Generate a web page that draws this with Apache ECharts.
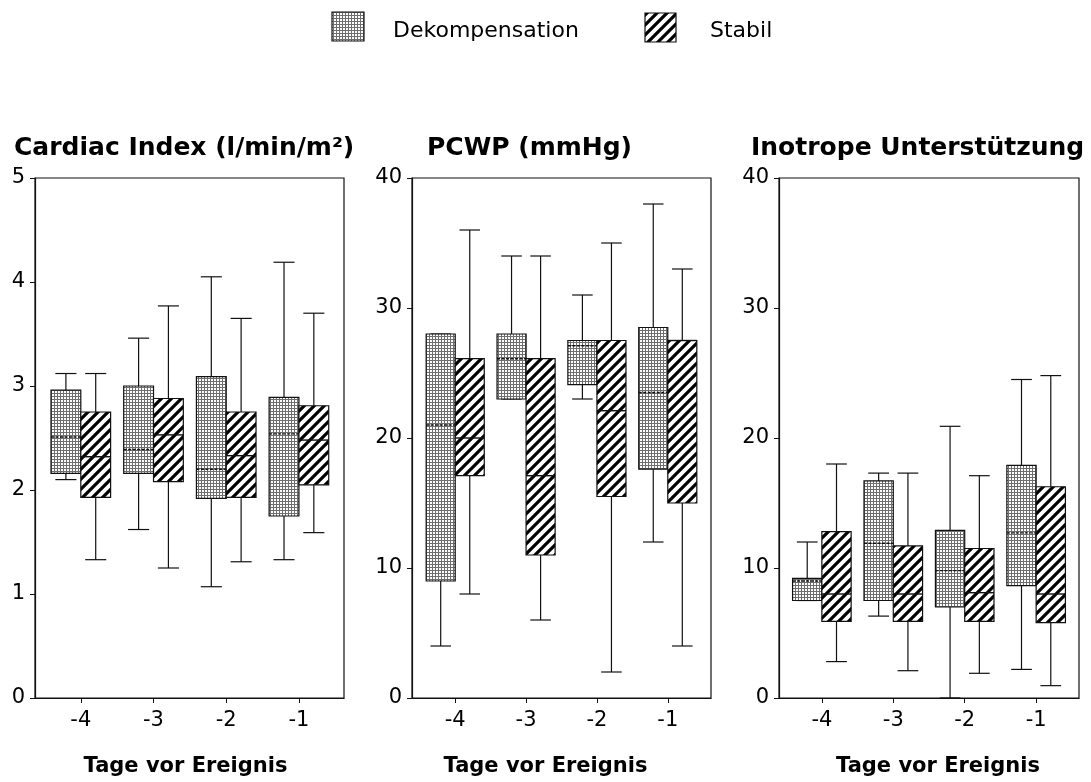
<!DOCTYPE html>
<html>
<head>
<meta charset="utf-8">
<script src="https://cdn.jsdelivr.net/npm/echarts@6/dist/echarts.min.js"></script>
<style>html,body{margin:0;padding:0;background:#fff}#c{width:1091px;height:782px}</style>
</head>
<body>
<div id="c"></div>
<script>
// ---- data: [min, q1, median, q3, max] per day ----
const days = [-4, -3, -2, -1];
const seriesNames = ['Dekompensation', 'Stabil'];
const panelTitles = ['Cardiac Index (l/min/m²)', 'PCWP (mmHg)', 'Inotrope Unterstützung'];
const xAxisTitle = 'Tage vor Ereignis';

const ciDekomp = [[2.10, 2.16, 2.51, 2.96, 3.12], [1.62, 2.16, 2.39, 3.00, 3.46], [1.07, 1.92, 2.20, 3.09, 4.05], [1.33, 1.75, 2.54, 2.89, 4.19]];
const ciStabil = [[1.33, 1.93, 2.32, 2.75, 3.12], [1.25, 2.08, 2.53, 2.88, 3.77], [1.31, 1.93, 2.33, 2.75, 3.65], [1.59, 2.05, 2.48, 2.81, 3.70]];

const pcwpDekomp = [[4, 9, 21, 28, 28], [23, 23, 26.1, 28, 34], [23, 24.1, 27.1, 27.5, 31], [12, 17.6, 23.5, 28.5, 38]];
const pcwpStabil = [[8, 17.1, 20, 26.1, 36], [6, 11, 17.1, 26.1, 34], [2, 15.5, 22.1, 27.5, 35], [4, 15, 27.5, 27.5, 33]];

const inoDekomp = [[7.5, 7.5, 9.0, 9.2, 12], [6.3, 7.5, 11.9, 16.7, 17.3], [0, 7.0, 9.8, 12.9, 20.9], [2.2, 8.65, 12.7, 17.9, 24.5]];
const inoStabil = [[2.8, 5.9, 8.0, 12.8, 18], [2.1, 5.9, 8.0, 11.7, 17.3], [1.9, 5.9, 8.1, 11.5, 17.1], [0.95, 5.8, 8.0, 16.25, 24.8]];

const yMax = [5, 40, 40];
const yStep = [1, 10, 10];

// ---- patterns ----
function dotPattern() {
  const c = document.createElement('canvas'); c.width = 3; c.height = 3;
  const g = c.getContext('2d');
  g.fillStyle = '#ffffff'; g.fillRect(0, 0, 3, 3);
  g.fillStyle = '#6e6e6e'; g.fillRect(0, 0, 3, 1); g.fillRect(0, 0, 1, 3);
  return c;
}
function hatchPattern() {
  const s = 10;
  const c = document.createElement('canvas'); c.width = s; c.height = s;
  const g = c.getContext('2d');
  g.fillStyle = '#ffffff'; g.fillRect(0, 0, s, s);
  g.strokeStyle = '#000'; g.lineWidth = 3.2; g.lineCap = 'square';
  g.beginPath();
  g.moveTo(-2, 2); g.lineTo(2, -2);
  g.moveTo(-2, s + 2); g.lineTo(s + 2, -2);
  g.moveTo(s - 2, s + 2); g.lineTo(s + 2, s - 2);
  g.stroke();
  return c;
}
const DOT = { image: dotPattern(), repeat: 'repeat' };
const HATCH = { image: hatchPattern(), repeat: 'repeat' };

const BW = 0.41;   // box width in day units
const CW = 0.29;   // cap width in day units

function makeRender(side, fill, medianDash) {
  return function (params, api) {
    const d = api.value(0);
    const mn = api.value(1), q1 = api.value(2), md = api.value(3), q3 = api.value(4), mx = api.value(5);
    const x0 = side < 0 ? d - BW : d;
    const x1 = x0 + BW;
    const xc = (x0 + x1) / 2;
    const tl = api.coord([x0, q3]);
    const br = api.coord([x1, q1]);
    const cTop = api.coord([xc, mx]);
    const cBot = api.coord([xc, mn]);
    const cq3 = api.coord([xc, q3]);
    const cq1 = api.coord([xc, q1]);
    const capL = api.coord([xc - CW / 2, mx])[0];
    const capR = api.coord([xc + CW / 2, mx])[0];
    const mL = api.coord([x0, md]);
    const mR = api.coord([x1, md]);
    const ls = { stroke: '#111', lineWidth: 1.2 };
    return {
      type: 'group',
      children: [
        { type: 'line', shape: { x1: cTop[0], y1: cTop[1], x2: cq3[0], y2: cq3[1] }, style: ls },
        { type: 'line', shape: { x1: cBot[0], y1: cBot[1], x2: cq1[0], y2: cq1[1] }, style: ls },
        { type: 'line', shape: { x1: capL, y1: cTop[1], x2: capR, y2: cTop[1] }, style: ls },
        { type: 'line', shape: { x1: capL, y1: cBot[1], x2: capR, y2: cBot[1] }, style: ls },
        { type: 'rect', shape: { x: tl[0], y: tl[1], width: br[0] - tl[0], height: br[1] - tl[1] },
          style: { fill: fill, stroke: '#111', lineWidth: 1.2 } },
        { type: 'line', shape: { x1: mL[0], y1: mL[1], x2: mR[0], y2: mR[1] },
          style: { stroke: '#111', lineWidth: 1.4, lineDash: medianDash ? [3, 1.5] : null } }
      ]
    };
  };
}

function rows(arr) { return arr.map(function (v, i) { return [days[i]].concat(v); }); }

const grids = [
  { left: 35, top: 178, width: 309, height: 520 },
  { left: 412, top: 178, width: 299, height: 520 },
  { left: 779, top: 178, width: 300, height: 520 }
];
const xRanges = [[-4.63, -0.38], [-4.61, -0.39], [-4.60, -0.40]];
const namePads = [[0, 8, 0, 0], [0, 32, 0, 0], [0, 0, 0, 18]];
const titleLefts = [14, 427, 751];
const dataSets = [[ciDekomp, ciStabil], [pcwpDekomp, pcwpStabil], [inoDekomp, inoStabil]];

const FONT = '"DejaVu Sans", "Liberation Sans", sans-serif';

const option = {
  backgroundColor: '#fff',
  animation: false,
  title: panelTitles.map(function (t, i) {
    return { text: t, left: titleLefts[i], top: 136, padding: 0,
      textStyle: { fontFamily: FONT, fontWeight: 'bold', fontSize: 25, color: '#000' } };
  }),
  grid: grids.map(function (g) {
    return Object.assign({ show: true, borderColor: '#111', borderWidth: 1.2, backgroundColor: 'transparent' }, g);
  }),
  xAxis: grids.map(function (g, i) {
    return {
      type: 'value', gridIndex: i, min: xRanges[i][0], max: xRanges[i][1],
      name: xAxisTitle, nameLocation: 'middle', nameGap: 58,
      nameTextStyle: { fontFamily: FONT, fontWeight: 'bold', fontSize: 21, color: '#000', padding: namePads[i] },
      axisLine: { show: true, lineStyle: { color: '#111', width: 1.2 } },
      axisTick: { show: true, length: 5, lineStyle: { color: '#111' }, customValues: days },
      axisLabel: { show: true, customValues: days, margin: 12, fontFamily: FONT, fontSize: 21, color: '#000',
        formatter: function (v) { return String(v); } },
      splitLine: { show: false }
    };
  }),
  yAxis: grids.map(function (g, i) {
    return {
      type: 'value', gridIndex: i, min: 0, max: yMax[i], interval: yStep[i],
      axisLine: { show: true, lineStyle: { color: '#111', width: 1.2 } },
      axisTick: { show: true, length: 5, lineStyle: { color: '#111' } },
      axisLabel: { margin: 10, fontFamily: FONT, fontSize: 21, color: '#000' },
      splitLine: { show: false }
    };
  }),
  series: [],
  graphic: [
    { type: 'rect', shape: { x: 332, y: 12, width: 32, height: 29 }, style: { fill: DOT, stroke: '#111', lineWidth: 1.2 } },
    { type: 'text', x: 393, y: 31, style: { text: seriesNames[0], fill: '#000', font: '22px ' + FONT, align: 'left', verticalAlign: 'middle' } },
    { type: 'rect', shape: { x: 645, y: 13, width: 31, height: 29 }, style: { fill: HATCH, stroke: '#111', lineWidth: 1.2 } },
    { type: 'text', x: 710, y: 31, style: { text: seriesNames[1], fill: '#000', font: '22px ' + FONT, align: 'left', verticalAlign: 'middle' } }
  ]
};

dataSets.forEach(function (pair, i) {
  option.series.push({
    type: 'custom', name: seriesNames[0], xAxisIndex: i, yAxisIndex: i, clip: false,
    encode: { x: 0, y: [1, 2, 3, 4, 5] },
    itemStyle: { color: DOT },
    renderItem: makeRender(-1, DOT, true), data: rows(pair[0])
  });
  option.series.push({
    type: 'custom', name: seriesNames[1], xAxisIndex: i, yAxisIndex: i, clip: false,
    encode: { x: 0, y: [1, 2, 3, 4, 5] },
    itemStyle: { color: HATCH },
    renderItem: makeRender(1, HATCH, false), data: rows(pair[1])
  });
});

const chart = echarts.init(document.getElementById('c'), null, { renderer: 'canvas' });
chart.setOption(option);
</script>
</body>
</html>
